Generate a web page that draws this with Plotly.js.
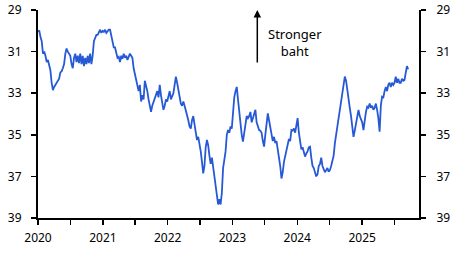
<!DOCTYPE html>
<html>
<head>
<meta charset="utf-8">
<script src="https://cdn.plot.ly/plotly-3.0.1.min.js"></script>
<style>html,body{margin:0;padding:0;background:#fff;}#chart{width:450px;height:253px;}</style>
</head>
<body>
<div id="chart"></div>
<script>
// USD/THB weekly (inverted axis: higher = weaker baht)
const dates = [
"2020-01-01","2020-01-08","2020-01-15","2020-01-22","2020-01-29",
"2020-02-05","2020-02-12","2020-02-19","2020-02-26",
"2020-03-04","2020-03-11","2020-03-18","2020-03-25",
"2020-04-01","2020-04-08","2020-04-15","2020-04-22","2020-04-29",
"2020-05-06","2020-05-13","2020-05-20","2020-05-27",
"2020-06-03","2020-06-10","2020-06-17","2020-06-24",
"2020-07-01","2020-07-08","2020-07-15","2020-07-22","2020-07-29",
"2020-08-05","2020-08-12","2020-08-19","2020-08-26",
"2020-09-02","2020-09-09","2020-09-16","2020-09-23","2020-09-30",
"2020-10-07","2020-10-14","2020-10-21","2020-10-28",
"2020-11-04","2020-11-11","2020-11-18","2020-11-25",
"2020-12-02","2020-12-09","2020-12-16","2020-12-23","2020-12-30",
"2021-01-06","2021-01-13","2021-01-20","2021-01-27",
"2021-02-03","2021-02-10","2021-02-17","2021-02-24",
"2021-03-03","2021-03-10","2021-03-17","2021-03-24","2021-03-31",
"2021-04-07","2021-04-14","2021-04-21","2021-04-28",
"2021-05-05","2021-05-12","2021-05-19","2021-05-26",
"2021-06-02","2021-06-09","2021-06-16","2021-06-23","2021-06-30",
"2021-07-07","2021-07-14","2021-07-21","2021-07-28",
"2021-08-04","2021-08-11","2021-08-18","2021-08-25",
"2021-09-01","2021-09-08","2021-09-15","2021-09-22","2021-09-29",
"2021-10-06","2021-10-13","2021-10-20","2021-10-27",
"2021-11-03","2021-11-10","2021-11-17","2021-11-24",
"2021-12-01","2021-12-08","2021-12-15","2021-12-22","2021-12-29",
"2022-01-05","2022-01-12","2022-01-19","2022-01-26",
"2022-02-02","2022-02-09","2022-02-16","2022-02-23",
"2022-03-02","2022-03-09","2022-03-16","2022-03-23","2022-03-30",
"2022-04-06","2022-04-13","2022-04-20","2022-04-27",
"2022-05-04","2022-05-11","2022-05-18","2022-05-25",
"2022-06-01","2022-06-08","2022-06-15","2022-06-22","2022-06-29",
"2022-07-06","2022-07-13","2022-07-20","2022-07-27",
"2022-08-03","2022-08-10","2022-08-17","2022-08-24","2022-08-31",
"2022-09-07","2022-09-14","2022-09-21","2022-09-28",
"2022-10-05","2022-10-12","2022-10-19","2022-10-26",
"2022-11-02","2022-11-09","2022-11-16","2022-11-23","2022-11-30",
"2022-12-07","2022-12-14","2022-12-21","2022-12-28",
"2023-01-04","2023-01-11","2023-01-18","2023-01-25",
"2023-02-01","2023-02-08","2023-02-15","2023-02-22",
"2023-03-01","2023-03-08","2023-03-15","2023-03-22","2023-03-29",
"2023-04-05","2023-04-12","2023-04-19","2023-04-26",
"2023-05-03","2023-05-10","2023-05-17","2023-05-24","2023-05-31",
"2023-06-07","2023-06-14","2023-06-21","2023-06-28",
"2023-07-05","2023-07-12","2023-07-19","2023-07-26",
"2023-08-02","2023-08-09","2023-08-16","2023-08-23","2023-08-30",
"2023-09-06","2023-09-13","2023-09-20","2023-09-27",
"2023-10-04","2023-10-11","2023-10-18","2023-10-25",
"2023-11-01","2023-11-08","2023-11-15","2023-11-22","2023-11-29",
"2023-12-06","2023-12-13","2023-12-20","2023-12-27",
"2024-01-03","2024-01-10","2024-01-17","2024-01-24","2024-01-31",
"2024-02-07","2024-02-14","2024-02-21","2024-02-28",
"2024-03-06","2024-03-13","2024-03-20","2024-03-27",
"2024-04-03","2024-04-10","2024-04-17","2024-04-24",
"2024-05-01","2024-05-08","2024-05-15","2024-05-22","2024-05-29",
"2024-06-05","2024-06-12","2024-06-19","2024-06-26",
"2024-07-03","2024-07-10","2024-07-17","2024-07-24","2024-07-31",
"2024-08-07","2024-08-14","2024-08-21","2024-08-28",
"2024-09-04","2024-09-11","2024-09-18","2024-09-25",
"2024-10-02","2024-10-09","2024-10-16","2024-10-23","2024-10-30",
"2024-11-06","2024-11-13","2024-11-20","2024-11-27",
"2024-12-04","2024-12-11","2024-12-18","2024-12-25",
"2025-01-01","2025-01-08","2025-01-15","2025-01-22","2025-01-29",
"2025-02-05","2025-02-12","2025-02-19","2025-02-26",
"2025-03-05","2025-03-12","2025-03-19","2025-03-26",
"2025-04-02","2025-04-09","2025-04-16","2025-04-23","2025-04-30",
"2025-05-07","2025-05-14","2025-05-21","2025-05-28",
"2025-06-04","2025-06-11","2025-06-18","2025-06-25",
"2025-07-02","2025-07-09","2025-07-16","2025-07-23","2025-07-30",
"2025-08-06","2025-08-13","2025-08-20","2025-08-27",
"2025-09-03","2025-09-10","2025-09-17"
];
const usdthb = [
30.05,29.98,30.3,30.5,31.1,
31.0,31.2,31.5,31.4,
31.6,31.9,32.5,32.85,
32.7,32.6,32.45,32.4,32.3,
32.0,31.95,31.8,31.6,
31.1,30.85,31.0,31.1,
31.2,31.6,31.8,31.3,31.1,
31.5,31.2,31.55,31.1,
31.6,31.2,31.7,31.3,31.6,
31.2,31.55,31.1,31.6,
31.2,30.5,30.3,30.2,
30.2,30.05,29.95,30.1,30.0,
30.05,29.95,30.1,30.0,
29.95,29.95,30.2,30.6,
30.8,30.8,31.0,31.3,31.25,
31.5,31.2,31.35,31.1,
31.3,31.2,31.4,31.25,
31.1,31.2,31.3,31.8,32.1,
32.3,32.6,32.9,32.6,
33.4,33.1,33.3,32.4,
32.6,32.9,33.3,33.6,33.9,
33.6,33.4,33.3,33.0,
32.9,33.2,32.6,33.1,
33.5,33.8,33.6,33.3,33.4,
33.2,32.9,33.3,33.1,
33.0,32.6,32.2,32.5,
32.9,33.3,33.5,33.6,33.4,
33.6,33.8,34.0,34.3,
34.6,34.7,34.3,34.1,
34.5,34.9,35.25,35.1,35.4,
35.8,36.3,36.85,36.5,
35.6,35.25,35.5,36.0,36.4,
36.1,36.6,37.0,37.4,
37.9,38.35,38.1,38.35,
37.8,36.6,36.2,35.8,35.0,
34.77,34.9,34.6,34.7,
33.9,33.2,32.9,32.7,
33.3,33.97,34.6,35.0,
35.33,34.9,34.3,34.1,34.2,
34.1,33.9,34.4,34.2,
34.0,33.8,34.4,34.6,34.77,
34.8,34.9,35.3,35.57,
35.0,34.5,33.97,34.3,
34.6,34.93,35.3,35.1,35.4,
35.3,35.7,36.0,36.5,
37.1,36.8,36.3,36.05,
35.8,35.5,35.2,35.3,34.77,
34.8,34.7,34.9,34.6,
34.2,34.9,35.3,35.7,35.6,
35.9,36.05,35.9,35.8,
35.6,35.57,36.1,36.5,
36.6,36.8,37.0,36.9,
36.5,36.4,36.1,36.5,36.7,
36.8,36.7,36.6,36.77,
36.7,36.5,36.2,36.0,35.4,
35.0,34.7,34.3,33.97,
33.6,33.2,32.7,32.2,
32.4,32.9,33.5,33.7,34.1,
34.5,35.1,34.8,34.5,
34.2,33.8,34.1,34.3,
34.4,34.77,34.2,33.9,33.65,
33.7,33.5,33.7,33.6,
33.8,33.7,33.5,33.8,
34.2,34.85,33.6,33.17,33.2,
32.9,32.7,32.9,32.6,
32.5,32.7,32.5,32.6,
32.5,32.2,32.5,32.3,32.5,
32.5,32.3,32.4,32.37,
32.1,31.7,31.85
];
const yTicks = [29, 31, 33, 35, 37, 39];
const xTickVals = ["2020-01-01","2020-07-01","2021-01-01","2021-07-01","2022-01-01","2022-07-01","2023-01-01","2023-07-01","2024-01-01","2024-07-01","2025-01-01","2025-07-01"];
const xTickText = ["2020","","2021","","2022","","2023","","2024","","2025",""];
const annText = "Stronger<br>baht";

const lineColor = "#2659d6";
const font = {family: "Noto Sans, Open Sans, sans-serif", size: 12, color: "#000"};

const traces = [
  {x: dates, y: usdthb, type: "scatter", mode: "lines", line: {color: lineColor, width: 1.8}, yaxis: "y", hoverinfo: "skip"},
  {x: dates, y: usdthb, type: "scatter", mode: "lines", line: {color: lineColor, width: 1.8}, yaxis: "y2", hoverinfo: "skip", opacity: 0}
];

const axY = {
  range: [39, 29], tickvals: yTicks, ticktext: yTicks.map(String),
  ticks: "outside", ticklen: 5, tickwidth: 1.5, tickcolor: "#000",
  showline: true, linecolor: "#000", linewidth: 2,
  showgrid: false, zeroline: false, tickfont: font, fixedrange: true
};

const layout = {
  width: 450, height: 253,
  margin: {l: 38, r: 31, t: 10, b: 35},
  paper_bgcolor: "#fff", plot_bgcolor: "#fff",
  showlegend: false,
  font: font,
  xaxis: {
    type: "date", range: ["2020-01-01", "2025-11-17"],
    tickvals: xTickVals, ticktext: xTickText,
    ticks: "outside", ticklen: 5, tickwidth: 1.5, tickcolor: "#000",
    showline: true, linecolor: "#000", linewidth: 2,
    showgrid: false, zeroline: false, tickfont: font, ticklabelstandoff: 3
  },
  yaxis: Object.assign({}, axY, {side: "left", ticklabelstandoff: 7}),
  yaxis2: Object.assign({}, axY, {side: "right", overlaying: "y", ticklabelstandoff: 8}),
  annotations: [
    {xref: "paper", yref: "paper", x: 0.5756, y: 1.0, text: "", showarrow: true,
     axref: "pixel", ayref: "pixel", ax: 0, ay: 54, arrowhead: 2, arrowsize: 1, arrowwidth: 1.5, arrowcolor: "#000"},
    {xref: "paper", yref: "paper", x: 0.6745, y: 0.846, text: annText, showarrow: false,
     xanchor: "center", yanchor: "middle", font: {family: font.family, size: 13, color: "#000"}}
  ]
};

Plotly.newPlot("chart", traces, layout, {staticPlot: true, displayModeBar: false});
</script>
</body>
</html>
